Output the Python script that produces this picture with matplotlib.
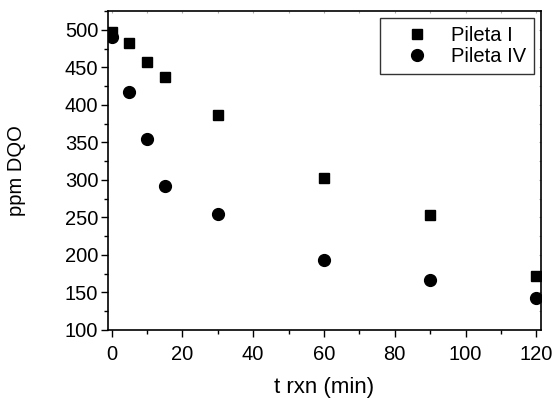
import matplotlib
matplotlib.use("Agg")
import matplotlib.pyplot as plt
from matplotlib.ticker import MultipleLocator

plt.rcParams['font.family'] = ['Liberation Sans', 'DejaVu Sans']

# 数据
t_min = [0, 5, 10, 15, 30, 60, 90, 120]
pileta_i = [497, 482, 457, 437, 387, 302, 253, 172]
pileta_iv = [491, 417, 355, 292, 255, 193, 167, 143]

fig = plt.figure(figsize=(5.56, 3.98), dpi=100)
ax = fig.add_axes([0.1942, 0.1709, 0.7788, 0.8015])

ax.plot(t_min, pileta_i, 's', color='black', markersize=7.5, label='Pileta I')
ax.plot(t_min, pileta_iv, 'o', color='black', markersize=8.5, label='Pileta IV')

ax.set_xlim(-1, 121.3)
ax.set_ylim(100, 525)
ax.xaxis.set_major_locator(MultipleLocator(20))
ax.xaxis.set_minor_locator(MultipleLocator(10))
ax.yaxis.set_major_locator(MultipleLocator(50))
ax.yaxis.set_minor_locator(MultipleLocator(25))

# 底部和左侧刻度朝外
ax.tick_params(which='major', direction='out', length=5, width=1, labelsize=14.5)
ax.tick_params(which='minor', direction='out', length=3, width=1)
ax.tick_params(axis='x', which='major', pad=6)
ax.tick_params(axis='y', which='major', pad=2)

# 顶部和右侧只有很淡的内刻度
ax2 = ax.secondary_xaxis('top')
ax2.xaxis.set_major_locator(MultipleLocator(10))
ax2.tick_params(direction='in', length=1.5, color='#aaaaaa', labeltop=False)
ax3 = ax.secondary_yaxis('right')
ax3.yaxis.set_major_locator(MultipleLocator(25))
ax3.tick_params(direction='in', length=1.5, color='#aaaaaa', labelright=False)
ax2.spines['top'].set_visible(False)
ax3.spines['right'].set_visible(False)

for s in ax.spines.values():
    s.set_linewidth(1.2)

ax.set_xlabel('t rxn (min)', fontsize=16, labelpad=9)
ax.set_ylabel('ppm DQO', fontsize=14.5, labelpad=28)

leg = ax.legend(loc='upper right', fontsize=14.5, frameon=True, fancybox=False,
                borderaxespad=0.35, handletextpad=0.3, borderpad=0.4, labelspacing=0.1,
                handlelength=2.8)
leg.get_frame().set_edgecolor('black')
leg.get_frame().set_linewidth(1)

fig.savefig('out.png', dpi=100)
